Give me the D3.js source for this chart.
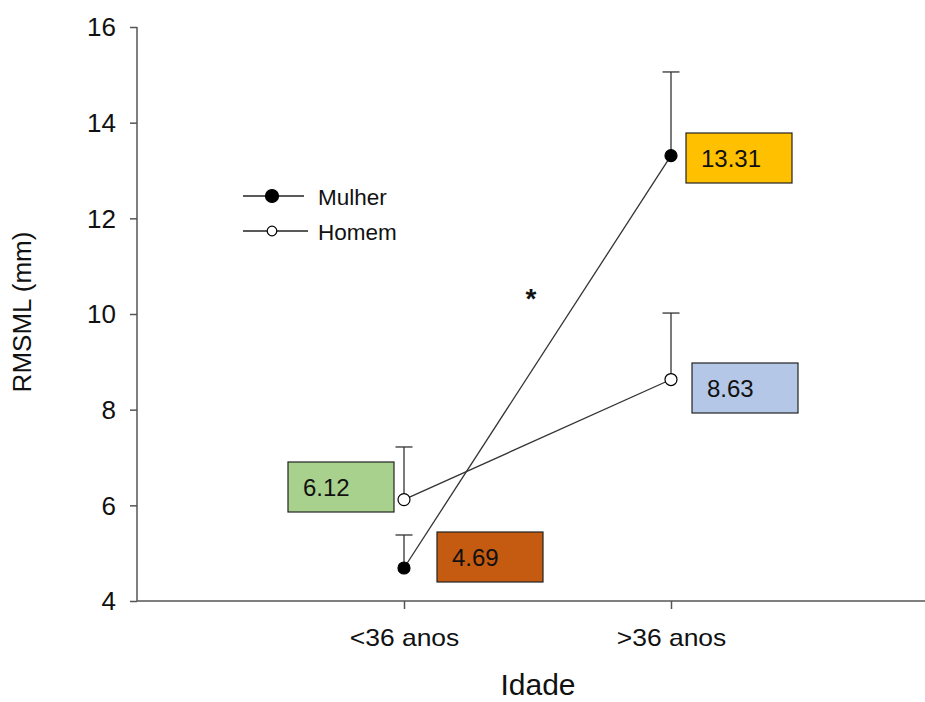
<!DOCTYPE html>
<html><head><meta charset="utf-8">
<script src="https://cdn.jsdelivr.net/npm/d3@7"></script>
<style>body{margin:0;background:#fff}svg{font-family:"Liberation Sans",Arial,sans-serif}</style>
</head><body><svg id="c" width="925" height="702"></svg>
<script>
const categories = ["<36 anos", ">36 anos"];
const seriesNames = ["Mulher", "Homem"];
const mulherMean = [4.69, 13.31];
const mulherUpper = [5.38, 15.06];
const homemMean = [6.12, 8.63];
const homemUpper = [7.22, 10.02];
const yTicks = [4, 6, 8, 10, 12, 14, 16];
const labelColors = {Mulher: ["#C55A11", "#FFC000"], Homem: ["#A9D18E", "#B4C7E7"]};

const svg = d3.select("#c");
const x = d3.scaleLinear().domain([0, 3]).range([137, 938]);
const y = d3.scaleLinear().domain([4, 16]).range([601, 27]);
const axisColor = "#555";
const FONT = "Liberation Sans, Arial, sans-serif";

// axes
const ya = svg.append("g").attr("transform", "translate(137,0)")
  .call(d3.axisLeft(y).tickValues(yTicks).tickSize(7).tickPadding(14).tickFormat(d3.format("d")));
ya.select(".domain").attr("d", `M0,${y(16)}V${y(4)}`);
ya.selectAll(".tick text").attr("font-size", 26).attr("dy", "0.34em");
const xa = svg.append("g").attr("transform", "translate(0,601)")
  .call(d3.axisBottom(x).tickValues([1, 2]).tickSize(8).tickPadding(21).tickFormat(d => categories[d - 1]));
xa.select(".domain").attr("d", `M137,0H938`);
xa.selectAll(".tick text").attr("font-size", 23).attr("transform", "scale(1.15,1)");
svg.selectAll(".domain, .tick line").attr("stroke", axisColor).attr("stroke-width", 1.5);
svg.selectAll(".tick text").attr("fill", "#111").attr("font-family", FONT);

svg.append("text").attr("x", 538).attr("y", 695).attr("text-anchor", "middle")
  .attr("font-size", 30).attr("fill", "#111").text("Idade");
svg.append("text").attr("transform", "translate(31,312) rotate(-90)").attr("text-anchor", "middle")
  .attr("font-size", 26).attr("fill", "#111").text("RMSML (mm)");

const series = [
  {name: "Mulher", mean: mulherMean, upper: mulherUpper, fill: "#000"},
  {name: "Homem", mean: homemMean, upper: homemUpper, fill: "#fff"}
];
const line = d3.line().x((d, i) => x(i + 1)).y(d => y(d));
series.forEach(s => {
  s.mean.forEach((m, i) => {
    const cx = x(i + 1);
    svg.append("line").attr("x1", cx).attr("x2", cx).attr("y1", y(m)).attr("y2", y(s.upper[i]))
      .attr("stroke", "#333").attr("stroke-width", 1.3);
    svg.append("line").attr("x1", cx - 8.5).attr("x2", cx + 8.5).attr("y1", y(s.upper[i])).attr("y2", y(s.upper[i]))
      .attr("stroke", "#333").attr("stroke-width", 1.3);
  });
  svg.append("path").attr("d", line(s.mean)).attr("fill", "none").attr("stroke", "#333").attr("stroke-width", 1.3);
});
series.forEach(s => {
  s.mean.forEach((m, i) => {
    svg.append("circle").attr("cx", x(i + 1)).attr("cy", y(m)).attr("r", 6)
      .attr("fill", s.fill).attr("stroke", "#000").attr("stroke-width", 1.2);
  });
});

// value label boxes (box left offset from point, box vertical centre)
const boxPlace = {Mulher: [[33, 557], [15, 158]], Homem: [[-116, 487], [21, 388]]};
series.forEach(s => {
  s.mean.forEach((m, i) => {
    const [dx, cy] = boxPlace[s.name][i];
    const bx = x(i + 1) + dx;
    const g = svg.append("g");
    g.append("rect").attr("x", bx).attr("y", cy - 25).attr("width", 106).attr("height", 50)
      .attr("fill", labelColors[s.name][i]).attr("stroke", "#222").attr("stroke-width", 1.2);
    g.append("text").attr("x", bx + 15).attr("y", cy + 8.5)
      .attr("font-size", 24).attr("fill", "#111").text(m.toFixed(2));
  });
});

// significance mark
svg.append("text").attr("x", 531).attr("y", 308).attr("text-anchor", "middle")
  .attr("font-size", 28).attr("font-weight", "bold").attr("fill", "#111").text("*");

// legend
const leg = svg.append("g");
[{name: "Mulher", fill: "#000", y: 196, r: 6.5, x2: 304}, {name: "Homem", fill: "#fff", y: 231, r: 4.8, x2: 308}].forEach(d => {
  leg.append("line").attr("x1", 243).attr("x2", d.x2).attr("y1", d.y).attr("y2", d.y)
    .attr("stroke", "#222").attr("stroke-width", 1.3);
  leg.append("circle").attr("cx", 272).attr("cy", d.y).attr("r", d.r)
    .attr("fill", d.fill).attr("stroke", "#000").attr("stroke-width", 1.2);
  leg.append("text").attr("x", 318).attr("y", d.y + 9).attr("font-size", 22.5).attr("fill", "#111").text(d.name);
});
</script></body></html>
